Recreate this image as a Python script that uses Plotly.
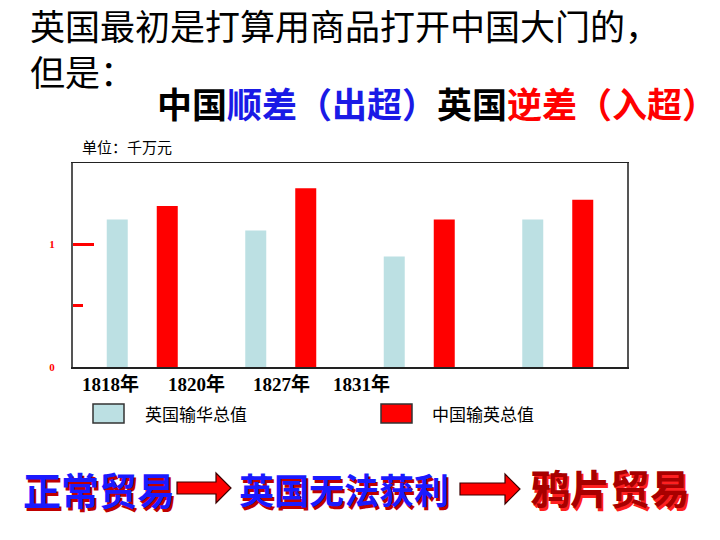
import plotly.graph_objects as go

# ---------------- data ----------------
groups = ["G1", "G2", "G3", "G4"]
year_labels = ["1818年", "1820年", "1827年", "1831年"]
uk_to_china = [1.20, 1.11, 0.90, 1.20]      # 英国输华总值
china_to_uk = [1.31, 1.455, 1.20, 1.36]     # 中国输英总值
series_names = ["英国输华总值", "中国输英总值"]
y_tick_vals = [0, 1]
y_tick_text = ["0", "1"]

# ---------------- layout helpers ----------------
W, H = 720, 540
L, R, T, B = 73, 93, 163, 173
PW, PH = W - L - R, H - T - B


def px(x):
    return (x - L) / PW


def py(y):
    return (H - B - y) / PH


BLUE_BAR = "#BCE0E3"
RED = "#FF0000"
CJK = "Noto Sans CJK SC"
SERIF = "Liberation Serif, Noto Sans CJK SC"

fig = go.Figure()
fig.add_trace(go.Bar(x=groups, y=uk_to_china, name=series_names[0],
                     marker=dict(color=BLUE_BAR, line=dict(width=0)), showlegend=False))
fig.add_trace(go.Bar(x=groups, y=china_to_uk, name=series_names[1],
                     marker=dict(color=RED, line=dict(width=0)), showlegend=False))
# empty helper trace so that the overlaying axis (half-unit tick) is drawn
fig.add_trace(go.Scatter(x=[], y=[], yaxis="y2", showlegend=False, hoverinfo="skip"))

annotations = []
shapes = []

# title lines
annotations.append(dict(x=px(28), y=py(24), xref="paper", yref="paper", xanchor="left", yanchor="middle",
                        text="英国最初是打算用商品打开中国大门的，", showarrow=False,
                        font=dict(family=CJK, size=35, color="black")))
annotations.append(dict(x=px(28), y=py(70), xref="paper", yref="paper", xanchor="left", yanchor="middle",
                        text="但是：", showarrow=False,
                        font=dict(family=CJK, size=35, color="black")))
annotations.append(dict(x=px(155), y=py(103), xref="paper", yref="paper", xanchor="left", yanchor="middle",
                        text="<b>中国<span style='color:#1a1ae6'>顺差（出超）</span>英国"
                             "<span style='color:#ff0000'>逆差（入超）</span></b>",
                        showarrow=False, font=dict(family=CJK, size=35, color="black")))

# unit label
annotations.append(dict(x=px(80), y=py(146), xref="paper", yref="paper", xanchor="left", yanchor="middle",
                        text="单位：千万元", showarrow=False,
                        font=dict(family=CJK, size=15, color="black")))

# year labels (offset from bar groups as in the reference)
year_px = [110, 196, 281, 361]
for lab, xp in zip(year_labels, year_px):
    annotations.append(dict(x=px(xp), y=py(384), xref="paper", yref="paper", xanchor="center",
                            yanchor="middle", text="<b>" + lab + "</b>", showarrow=False,
                            font=dict(family=SERIF, size=19, color="black")))

# custom legend
leg = [(93, BLUE_BAR, series_names[0], 143), (381, RED, series_names[1], 430)]
for x0, col, name, tx in leg:
    shapes.append(dict(type="rect", xref="paper", yref="paper", x0=px(x0), x1=px(x0 + 31),
                       y0=py(423), y1=py(404), fillcolor=col, line=dict(color="#333333", width=1.5)))
    annotations.append(dict(x=px(tx), y=py(413), xref="paper", yref="paper", xanchor="left",
                            yanchor="middle", text=name, showarrow=False,
                            font=dict(family=CJK, size=17, color="black")))


# bottom 3D-ish text (single text with a drop shadow)
def shadow_text(text, xc, yc, size, color, shadow):
    annotations.append(dict(x=px(xc), y=py(yc), xref="paper", yref="paper", xanchor="center",
                            yanchor="middle", text="<b>" + text + "</b>", showarrow=False,
                            font=dict(family=CJK, size=size, color=color,
                                      shadow=f"2px 3px 0px {shadow}")))


shadow_text("正常贸易", 99, 488, 38, "#1a1aff", "#c00000")
shadow_text("英国无法获利", 344, 488, 35, "#1a1aff", "#c00000")
shadow_text("鸦片贸易", 610, 487, 40, "#a80000", "#ff2020")


def arrow(x0, xh, x1, yc, bh=6, hh=15):
    pts = [(x0, yc - bh), (xh, yc - bh), (xh, yc - hh), (x1, yc), (xh, yc + hh), (xh, yc + bh), (x0, yc + bh)]
    path = "M " + " L ".join(f"{px(a):.5f},{py(b):.5f}" for a, b in pts) + " Z"
    shapes.append(dict(type="path", xref="paper", yref="paper", path=path, fillcolor=RED,
                       line=dict(color="#3a0000", width=1.2)))


arrow(177, 216, 231, 488)
arrow(460, 505, 520, 489)

fig.update_layout(
    width=W, height=H, autosize=False,
    margin=dict(l=L, r=R, t=T, b=B, pad=0),
    paper_bgcolor="white", plot_bgcolor="white",
    barmode="group", bargap=0.278, bargroupgap=0.58,
    showlegend=False, hovermode=False,
    annotations=annotations, shapes=shapes,
    xaxis=dict(showticklabels=False, ticks="", showgrid=False, zeroline=False,
               showline=True, linecolor="#222222", linewidth=1.5, mirror=True),
    yaxis=dict(range=[0, 1.66], tickmode="array", tickvals=y_tick_vals,
               ticktext=["<b>" + t + "</b>" for t in y_tick_text],
               ticks="", showgrid=False, zeroline=False,
               showline=True, linecolor="#555555", linewidth=2, mirror=True,
               tickfont=dict(family="Liberation Serif", size=11, color=RED),
               ticklabelstandoff=14,
               minor=dict(tickmode="array", tickvals=[1], ticks="inside", ticklen=21,
                          tickwidth=3, tickcolor=RED, showgrid=False)),
    yaxis2=dict(range=[0, 1.66], overlaying="y", side="left", tickmode="array", tickvals=[0.5],
                ticks="inside", ticklen=10, tickwidth=3, tickcolor=RED, showticklabels=False,
                showgrid=False, zeroline=False, showline=False),
)

fig.write_html("out.html", config={"displayModeBar": False, "staticPlot": True},
               post_script="document.body.style.margin='0';")
